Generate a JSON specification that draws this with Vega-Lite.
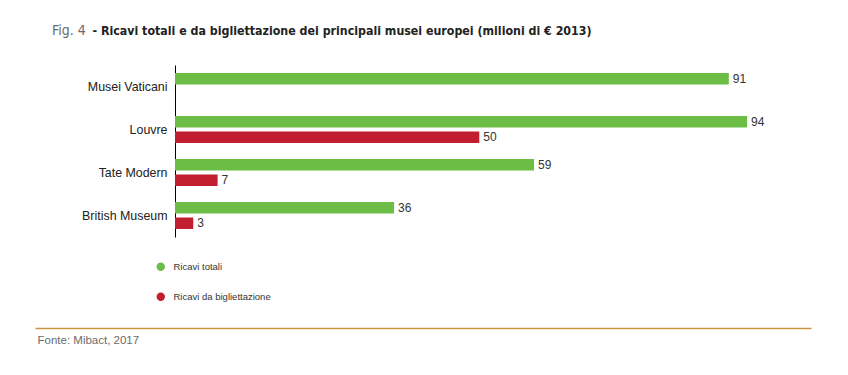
{
  "$schema": "https://vega.github.io/schema/vega-lite/v6.json",
  "width": 776,
  "height": 172,
  "autosize": {"type": "none"},
  "padding": {"left": 35, "top": 65, "right": 37, "bottom": 138},
  "background": "white",
  "title": {
    "text": "Fig. 4",
    "anchor": "start",
    "frame": "group",
    "font": "DejaVu Sans Condensed, sans-serif",
    "fontSize": 14,
    "fontWeight": "normal",
    "color": "#6b6b6b",
    "dx": 17,
    "offset": -14
  },
  "data": {
    "values": [
      {"museo": "Musei Vaticani", "serie": "Ricavi totali", "valore": 91},
      {"museo": "Louvre", "serie": "Ricavi totali", "valore": 94},
      {"museo": "Louvre", "serie": "Ricavi da bigliettazione", "valore": 50},
      {"museo": "Tate Modern", "serie": "Ricavi totali", "valore": 59},
      {"museo": "Tate Modern", "serie": "Ricavi da bigliettazione", "valore": 7},
      {"museo": "British Museum", "serie": "Ricavi totali", "valore": 36},
      {"museo": "British Museum", "serie": "Ricavi da bigliettazione", "valore": 3}
    ]
  },
  "encoding": {
    "y": {
      "field": "museo",
      "type": "nominal",
      "sort": ["Musei Vaticani", "Louvre", "Tate Modern", "British Museum"],
      "scale": {"paddingInner": 0, "paddingOuter": 0},
      "axis": {
        "orient": "left",
        "offset": -140,
        "domainColor": "#000000",
        "domainWidth": 1,
        "ticks": false,
        "grid": false,
        "labelPadding": 8,
        "labelFont": "Liberation Sans",
        "labelFontSize": 12.4,
        "labelColor": "#222222",
        "title": "- Ricavi totali e da bigliettazione dei principali musei europei (milioni di € 2013)",
        "titleAngle": 0,
        "titleAlign": "left",
        "titleBaseline": "middle",
        "titleX": -83,
        "titleY": -35,
        "titleFont": "DejaVu Sans Condensed, sans-serif",
        "titleFontSize": 12.3,
        "titleFontWeight": "bold",
        "titleColor": "#222222"
      }
    },
    "yOffset": {
      "field": "serie",
      "sort": ["Ricavi totali", "Ricavi da bigliettazione"],
      "scale": {"paddingInner": 0.26, "paddingOuter": 0.52}
    },
    "x": {
      "field": "valore",
      "type": "quantitative",
      "scale": {"domain": [-23, 104.5], "nice": false, "zero": false},
      "axis": {
        "orient": "bottom",
        "offset": 91,
        "labels": false,
        "ticks": false,
        "grid": false,
        "domainColor": "#c8963e",
        "domainWidth": 1.5,
        "title": "Fonte: Mibact, 2017",
        "titleAnchor": "start",
        "titleAlign": "left",
        "titleBaseline": "top",
        "titleX": 2,
        "titleY": 6,
        "titleFont": "Liberation Sans",
        "titleFontSize": 11.5,
        "titleFontWeight": "normal",
        "titleColor": "#6b6b6b"
      }
    }
  },
  "layer": [
    {
      "mark": {"type": "bar"},
      "encoding": {
        "color": {
          "field": "serie",
          "type": "nominal",
          "sort": ["Ricavi totali", "Ricavi da bigliettazione"],
          "scale": {
            "domain": ["Ricavi totali", "Ricavi da bigliettazione"],
            "range": ["#6cbd45", "#c11f2f"]
          },
          "legend": {
            "orient": "none",
            "legendX": 121,
            "legendY": 197,
            "title": null,
            "padding": 0,
            "symbolType": "circle",
            "symbolSize": 70,
            "symbolStrokeWidth": 0,
            "rowPadding": 19,
            "labelOffset": 8,
            "labelFont": "Liberation Sans",
            "labelFontSize": 9.5,
            "labelColor": "#333333"
          }
        }
      }
    },
    {
      "mark": {
        "type": "text",
        "align": "left",
        "baseline": "middle",
        "dx": 4,
        "font": "Liberation Sans",
        "fontSize": 12,
        "color": "#333333"
      },
      "encoding": {"text": {"field": "valore", "type": "quantitative"}}
    }
  ],
  "config": {"view": {"stroke": null}}
}
